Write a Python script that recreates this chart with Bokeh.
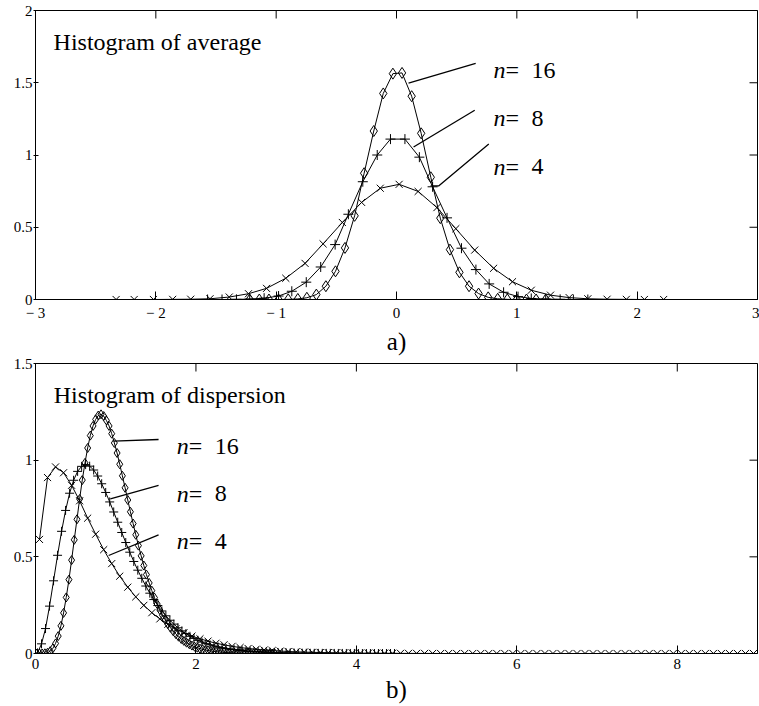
import math
from bokeh.plotting import figure
from bokeh.layouts import column
from bokeh.models import LinearAxis, FixedTicker, Range1d, Label
from bokeh.embed import file_html
from bokeh.resources import INLINE

FONT = "Liberation Serif"

# ---------------- (a) Histogram of average ----------------
avg_n4_x = [-2.33, -2.18, -2.02, -1.86, -1.71, -1.55, -1.39, -1.23, -1.08, -0.92, -0.76, -0.61, -0.45, -0.29, -0.135,
            0.022, 0.18, 0.336, 0.493, 0.65, 0.807, 0.964, 1.12, 1.28, 1.435, 1.59, 1.75, 1.91, 2.06, 2.22]
avg_n4_y = [0.0, 0.0, 0.0, 0.001, 0.002, 0.005, 0.017, 0.04, 0.077, 0.147, 0.25, 0.385, 0.533, 0.672, 0.77,
            0.797, 0.748, 0.636, 0.49, 0.342, 0.216, 0.123, 0.064, 0.03, 0.013, 0.005, 0.002, 0.001, 0.0, 0.0]
avg_n8_x = [-1.57, -1.45, -1.33, -1.22, -1.10, -0.98, -0.87, -0.75, -0.63, -0.51, -0.40, -0.28, -0.16, -0.05,
            0.07, 0.19, 0.30, 0.42, 0.54, 0.66, 0.77, 0.89, 1.01, 1.12, 1.24, 1.36, 1.47, 1.59]
avg_n8_y = [0.0, 0.0, 0.001, 0.003, 0.009, 0.024, 0.057, 0.12, 0.225, 0.38, 0.59, 0.815, 1.0, 1.11,
            1.11, 0.985, 0.78, 0.565, 0.355, 0.207, 0.108, 0.05, 0.02, 0.007, 0.003, 0.001, 0.0, 0.0]
avg_n16_x = [-1.22, -1.14, -1.06, -0.98, -0.90, -0.82, -0.745, -0.666, -0.587, -0.507, -0.428, -0.348, -0.269,
             -0.189, -0.110, -0.030, 0.046, 0.126, 0.205, 0.285, 0.364, 0.444, 0.523, 0.603, 0.682, 0.762, 0.841,
             0.921, 1.0, 1.08, 1.16, 1.24]
avg_n16_y = [0.0, 0.0, 0.0, 0.0, 0.001, 0.004, 0.012, 0.034, 0.092, 0.195, 0.357, 0.579, 0.874,
             1.166, 1.426, 1.563, 1.568, 1.407, 1.15, 0.846, 0.563, 0.345, 0.188, 0.092, 0.041, 0.015, 0.005,
             0.001, 0.0, 0.0, 0.0, 0.0]
avg_xticks = [-3, -2, -1, 0, 1, 2, 3]
avg_xlabels = ["\u2212 3", "\u2212 2", "\u2212 1", "0", "1", "2", "3"]
avg_yticks = [0, 0.5, 1, 1.5, 2]
avg_ylabels = ["0", "0.5", "1", "1.5", "2"]

# ---------------- (b) Histogram of dispersion ----------------
disp_n4_x = [0.05, 0.15, 0.25, 0.35, 0.45, 0.55, 0.65, 0.75, 0.85, 0.95,
             1.05, 1.15, 1.25, 1.35, 1.45, 1.55, 1.65, 1.75, 1.85, 1.95,
             2.05, 2.15, 2.25, 2.35, 2.45, 2.55, 2.65, 2.75, 2.85, 2.95,
             3.05, 3.15, 3.25, 3.35, 3.45, 3.55, 3.65, 3.75, 3.85, 3.95,
             4.05, 4.15, 4.25, 4.35, 4.45, 4.55, 4.65, 4.75, 4.85, 4.95,
             5.05, 5.15, 5.25, 5.35, 5.45, 5.55, 5.65, 5.75, 5.85, 5.95,
             6.05, 6.15, 6.25, 6.35, 6.45, 6.55, 6.65, 6.75, 6.85, 6.95,
             7.05, 7.15, 7.25, 7.35, 7.45, 7.55, 7.65, 7.75, 7.85, 7.95,
             8.05, 8.15, 8.25, 8.35, 8.45, 8.55, 8.65, 8.75, 8.85, 8.95]
disp_n4_y = [0.59, 0.91, 0.965, 0.935, 0.87, 0.79, 0.70, 0.617, 0.537, 0.465,
             0.40, 0.343, 0.293, 0.249, 0.211, 0.179, 0.151, 0.128, 0.107, 0.09,
             0.076, 0.064, 0.053, 0.045, 0.037, 0.031, 0.026, 0.022, 0.018, 0.015,
             0.0125, 0.0104, 0.0086, 0.0072, 0.006, 0.005, 0.0041, 0.0034, 0.0028, 0.0024,
             0.002, 0.0016, 0.0013, 0.0011, 0.0009, 0.0007, 0.0006, 0.0005, 0.0004, 0.0003,
             0.0, 0.0, 0.0, 0.0, 0.0, 0.0, 0.0, 0.0, 0.0, 0.0,
             0.0, 0.0, 0.0, 0.0, 0.0, 0.0, 0.0, 0.0, 0.0, 0.0,
             0.0, 0.0, 0.0, 0.0, 0.0, 0.0, 0.0, 0.0, 0.0, 0.0,
             0.0, 0.0, 0.0, 0.0, 0.0, 0.0, 0.0, 0.0, 0.0, 0.0]
disp_n8_x = [0.025, 0.075, 0.125, 0.175, 0.225, 0.275, 0.325, 0.375, 0.425, 0.475,
             0.525, 0.575, 0.625, 0.675, 0.725, 0.775, 0.825, 0.875, 0.925, 0.975,
             1.025, 1.075, 1.125, 1.175, 1.225, 1.275, 1.325, 1.375, 1.425, 1.475,
             1.525, 1.575, 1.625, 1.675, 1.725, 1.775, 1.825, 1.875, 1.925, 1.975,
             2.025, 2.075, 2.125, 2.175, 2.225, 2.275, 2.325, 2.375, 2.425, 2.475,
             2.525, 2.575, 2.625, 2.675, 2.725, 2.775, 2.825, 2.875, 2.925, 2.975,
             3.025, 3.075, 3.125, 3.175, 3.225, 3.275, 3.325, 3.375, 3.425, 3.475,
             3.525, 3.575, 3.625, 3.675, 3.725, 3.775, 3.825, 3.875, 3.925, 3.975,
             4.025, 4.075, 4.125, 4.175, 4.225, 4.275, 4.325, 4.375, 4.425, 4.475]
disp_n8_y = [0.003, 0.05, 0.129, 0.245, 0.376, 0.508, 0.632, 0.74, 0.829, 0.896,
             0.942, 0.968, 0.977, 0.969, 0.949, 0.918, 0.878, 0.833, 0.784, 0.732,
             0.679, 0.626, 0.574, 0.524, 0.476, 0.431, 0.389, 0.349, 0.312, 0.279,
             0.248, 0.22, 0.195, 0.172, 0.152, 0.133, 0.117, 0.103, 0.089, 0.078,
             0.068, 0.059, 0.051, 0.045, 0.039, 0.034, 0.03, 0.026, 0.023, 0.02,
             0.017, 0.015, 0.013, 0.011, 0.01, 0.009, 0.008, 0.007, 0.006, 0.005,
             0.004, 0.0035, 0.003, 0.0025, 0.002, 0.0017, 0.0015, 0.0013, 0.0011, 0.0009,
             0.0008, 0.0007, 0.0006, 0.0005, 0.0004, 0.0003, 0.0003, 0.0002, 0.0002, 0.0002,
             0.0, 0.0, 0.0, 0.0, 0.0, 0.0, 0.0, 0.0, 0.0, 0.0]
disp_n16_x = [0.017, 0.05, 0.083, 0.117, 0.15, 0.183, 0.217, 0.25, 0.283, 0.317,
              0.35, 0.383, 0.417, 0.45, 0.483, 0.517, 0.55, 0.583, 0.617, 0.65,
              0.683, 0.717, 0.75, 0.783, 0.817, 0.85, 0.883, 0.917, 0.95, 0.983,
              1.017, 1.05, 1.083, 1.117, 1.15, 1.183, 1.217, 1.25, 1.283, 1.317,
              1.35, 1.383, 1.417, 1.45, 1.483, 1.517, 1.55, 1.583, 1.617, 1.65,
              1.683, 1.717, 1.75, 1.783, 1.817, 1.85, 1.883, 1.917, 1.95, 1.983,
              2.017, 2.05, 2.083, 2.117, 2.15, 2.183, 2.217, 2.25, 2.283, 2.317,
              2.35, 2.383, 2.417, 2.45, 2.483, 2.517, 2.55, 2.583, 2.617, 2.65,
              2.683, 2.717, 2.75, 2.783, 2.817, 2.85, 2.883, 2.917, 2.95, 2.983]
disp_n16_y = [0.0, 0.0, 0.0002, 0.001, 0.004, 0.012, 0.027, 0.052, 0.09, 0.143,
              0.21, 0.29, 0.382, 0.483, 0.588, 0.694, 0.799, 0.897, 0.986, 1.063,
              1.127, 1.177, 1.211, 1.231, 1.237, 1.228, 1.206, 1.177, 1.137, 1.089,
              1.037, 0.979, 0.919, 0.857, 0.794, 0.733, 0.672, 0.614, 0.558, 0.505,
              0.455, 0.408, 0.365, 0.325, 0.289, 0.256, 0.225, 0.198, 0.174, 0.152,
              0.133, 0.115, 0.1, 0.087, 0.075, 0.065, 0.056, 0.048, 0.041, 0.035,
              0.03, 0.025, 0.022, 0.018, 0.016, 0.013, 0.011, 0.009, 0.008, 0.007,
              0.006, 0.005, 0.004, 0.003, 0.003, 0.002, 0.002, 0.002, 0.001, 0.001,
              0.001, 0.001, 0.001, 0.0, 0.0, 0.0, 0.0, 0.0, 0.0, 0.0]
disp_xticks = [0, 2, 4, 6, 8]
disp_xlabels = ["0", "2", "4", "6", "8"]
disp_yticks = [0, 0.5, 1, 1.5]
disp_ylabels = ["0", "0.5", "1", "1.5"]

# annotation positions (data units)
avg_title = ("Histogram of average", -2.85, 1.78)
avg_names = [("16", 0.806, 1.586), ("8", 0.806, 1.255), ("4", 0.806, 0.917)]
avg_leaders = [([0.10, 0.658], [1.497, 1.634]),
               ([0.142, 0.65], [1.055, 1.31]),
               ([0.283, 0.35, 0.767], [0.786, 0.786, 1.076])]
disp_title = ("Histogram of dispersion", 0.228, 1.335)
disp_names = [("16", 1.762, 1.071), ("8", 1.762, 0.826), ("4", 1.762, 0.581)]
disp_leaders = [([0.974, 1.534], [1.098, 1.107]),
                ([0.933, 1.534], [0.80, 0.869]),
                ([0.912, 1.534], [0.507, 0.614])]


def make_fig(xr, yr, height, bt, bb, xticks, xlabels, yticks, ylabels, caption):
    p = figure(width=759, height=height, x_range=Range1d(*xr), y_range=Range1d(*yr),
               output_backend="svg", toolbar_location=None,
               x_axis_location=None, y_axis_location=None,
               min_border_left=35, min_border_right=2, min_border_top=bt, min_border_bottom=bb)
    p.xgrid.grid_line_color = None
    p.ygrid.grid_line_color = None
    p.outline_line_color = "black"
    p.outline_line_width = 1
    p.background_fill_color = "white"
    p.border_fill_color = "white"

    xa = LinearAxis(ticker=FixedTicker(ticks=xticks),
                    major_label_overrides={t: l for t, l in zip(xticks, xlabels)},
                    major_tick_in=8, major_tick_out=0, minor_tick_in=0, minor_tick_out=0,
                    axis_line_color="black", major_tick_line_color="black",
                    major_label_text_font=FONT, major_label_text_font_size="15px",
                    major_label_text_color="black", major_label_standoff=5,
                    axis_label=caption, axis_label_text_font=FONT, axis_label_text_font_size="25px",
                    axis_label_text_font_style="normal", axis_label_text_color="black",
                    axis_label_standoff=4)
    p.add_layout(xa, "below")
    ya = LinearAxis(ticker=FixedTicker(ticks=yticks),
                    major_label_overrides={t: l for t, l in zip(yticks, ylabels)},
                    major_tick_in=3, major_tick_out=2, minor_tick_in=0, minor_tick_out=0,
                    axis_line_color="black", major_tick_line_color="black",
                    major_label_text_font=FONT, major_label_text_font_size="15px",
                    major_label_text_color="black", major_label_standoff=1)
    p.add_layout(ya, "left")
    # mirrored inner ticks on the top and right edges of the frame
    p.scatter(xticks, [yr[1]] * len(xticks), marker="dash", angle=math.pi / 2, size=16,
              line_color="black", line_width=1)
    p.scatter([xr[1]] * len(yticks), yticks, marker="dash", size=16, line_color="black", line_width=1)
    return p


def draw_series(p, xs, ys, marker, size):
    p.line(xs, ys, line_color="black", line_width=1)
    p.scatter(xs, ys, marker=marker, size=size, fill_color=None, line_color="black", line_width=1)


def annotate(p, title, names, leaders):
    t, tx, ty = title
    p.add_layout(Label(x=tx, y=ty, text=t, text_font=FONT, text_font_size="24px",
                       text_baseline="alphabetic", text_color="black"))
    for num, nx, ny in names:
        p.add_layout(Label(x=nx, y=ny, text="n", text_font=FONT, text_font_size="24px",
                           text_font_style="italic", text_baseline="alphabetic", text_color="black"))
        p.add_layout(Label(x=nx, y=ny, text="=", x_offset=12, text_font=FONT, text_font_size="24px",
                           text_baseline="alphabetic", text_color="black"))
        p.add_layout(Label(x=nx, y=ny, text=num, x_offset=38, text_font=FONT, text_font_size="24px",
                           text_baseline="alphabetic", text_color="black"))
    for lx, ly in leaders:
        p.line(lx, ly, line_color="black", line_width=1.3)


p1 = make_fig((-3, 3), (0, 2), 357, 10, 57, avg_xticks, avg_xlabels, avg_yticks, avg_ylabels, "a)")
draw_series(p1, avg_n4_x, avg_n4_y, "x", 10)
draw_series(p1, avg_n8_x, avg_n8_y, "cross", 10)
draw_series(p1, avg_n16_x, avg_n16_y, "diamond", 11)
annotate(p1, avg_title, avg_names, avg_leaders)

p2 = make_fig((0, 9), (0, 1.5), 349, 6, 53, disp_xticks, disp_xlabels, disp_yticks, disp_ylabels, "b)")
draw_series(p2, disp_n4_x, disp_n4_y, "x", 10)
draw_series(p2, disp_n8_x, disp_n8_y, "cross", 9)
draw_series(p2, disp_n16_x, disp_n16_y, "diamond", 9)
annotate(p2, disp_title, disp_names, disp_leaders)

layout = column(p1, p2, spacing=0)
open("out.html", "w").write(file_html(layout, INLINE))
